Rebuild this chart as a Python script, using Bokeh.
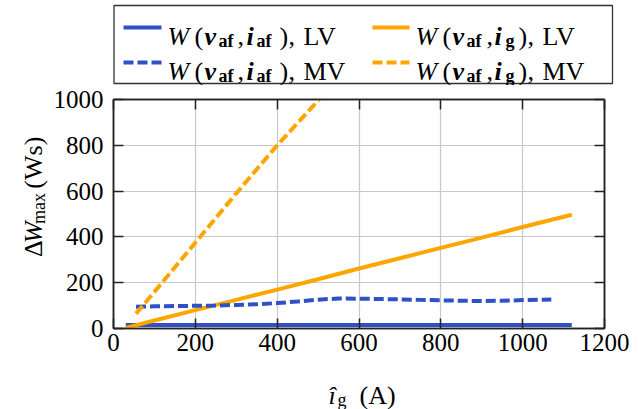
import math
from bokeh.plotting import figure
from bokeh.models import Range1d, LinearAxis, FixedTicker, Label
from bokeh.layouts import column, row
from bokeh.embed import file_html
from bokeh.resources import INLINE

# ---------------- data ----------------
x_lv = [30, 100, 200, 300, 400, 500, 600, 700, 800, 900, 1000, 1120]
w_af_lv = [15, 15, 15, 15, 15, 15, 15, 15, 15, 15, 15, 15]
w_g_lv = [3, 35, 80, 125, 170, 215, 262, 307, 352, 397, 443, 497]

x_mv = [55, 100, 150, 200, 250, 300, 350, 400, 450, 500, 550, 600, 650,
        700, 750, 800, 850, 900, 950, 1000, 1070]
w_af_mv = [95, 97, 98, 99, 100, 103, 106, 111, 118, 126, 131, 130, 129,
           127, 125, 123, 121, 120, 121, 124, 127]

x_mv_g = [55, 100, 200, 300, 400, 500, 530]
w_g_mv = [65, 160, 375, 590, 800, 995, 1055]

x_ticks = [0, 200, 400, 600, 800, 1000, 1200]
y_ticks = [0, 200, 400, 600, 800, 1000]

BLUE = "#3050c8"
ORANGE = "#ffa500"
FONT = "Liberation Serif"
DASH = "10 4"


def bare(w, h, x0, x1, y0, y1):
    f = figure(width=w, height=h, x_range=Range1d(x0, x1), y_range=Range1d(y0, y1),
               toolbar_location=None, output_backend="svg", min_border=0,
               x_axis_location=None, y_axis_location=None)
    f.grid.visible = False
    f.outline_line_color = None
    f.background_fill_color = "white"
    f.border_fill_color = "white"
    return f


def put(f, txt, x, y, style="normal", size=26, angle=0.0):
    f.add_layout(Label(x=x, y=y, text=txt, x_units="data", y_units="data",
                       text_font=FONT, text_font_size=f"{size}px",
                       text_font_style=style, text_color="black", text_align="left",
                       text_baseline="alphabetic", angle=angle))


# ---------------- legend strip ----------------
leg = bare(638, 85, 0, 638, 85, 0)
leg.quad(left=[113.5], right=[612], top=[5], bottom=[83], fill_color=None,
         line_color="#333333", line_width=1.3)
rows = [(27, 36, "LV", None), (62, 71, "MV", DASH)]
for ly, b, tag, dash in rows:
    kw = {} if dash is None else {"line_dash": dash}
    leg.line([123, 161], [ly, ly], line_color=BLUE, line_width=4, **kw)
    leg.line([372, 409], [ly, ly], line_color=ORANGE, line_width=4, **kw)
    # column 1
    put(leg, "W", 167, b, "italic")
    put(leg, "(", 194, b)
    put(leg, "v", 204, b, "bold italic")
    put(leg, "af", 218, b + 4, "bold", 18)
    put(leg, ",", 237, b)
    put(leg, "i", 246, b, "bold italic")
    put(leg, "af", 256, b + 4, "bold", 18)
    put(leg, ")", 279, b)
    put(leg, ",", 288, b)
    put(leg, tag, 303, b)
    # column 2
    put(leg, "W", 415, b, "italic")
    put(leg, "(", 442, b)
    put(leg, "v", 452, b, "bold italic")
    put(leg, "af", 466, b + 4, "bold", 18)
    put(leg, ",", 486, b)
    put(leg, "i", 494, b, "bold italic")
    put(leg, "g", 505, b + 4, "bold", 18)
    put(leg, ")", 518, b)
    put(leg, ",", 527, b)
    put(leg, tag, 542, b)

# ---------------- y label strip ----------------
ylab = bare(50, 285, 0, 50, 370, 85)
A = math.pi / 2
put(ylab, "Δ", 33, 281, "normal", 26, A)
put(ylab, "W", 33, 264, "italic", 26, A)
put(ylab, "max", 38, 240, "normal", 18, A)
put(ylab, "(Ws)", 33, 196, "normal", 26, A)

# ---------------- x label strip ----------------
xlab = bare(638, 39, 0, 638, 409, 370)
put(xlab, "î", 328, 395, "italic", 26)
put(xlab, "g", 337, 399, "normal", 18)
put(xlab, "(A)", 359, 395, "normal", 26)

# ---------------- main plot ----------------
p = figure(width=588, height=285, x_range=Range1d(0, 1200), y_range=Range1d(0, 1000),
           toolbar_location=None, output_backend="svg",
           min_border_left=63, min_border_right=34, min_border_top=14, min_border_bottom=42)
p.background_fill_color = "white"
p.border_fill_color = "white"
p.outline_line_color = "#222222"
p.outline_line_width = 1.5

p.xaxis.ticker = FixedTicker(ticks=x_ticks)
p.yaxis.ticker = FixedTicker(ticks=y_ticks)
p.xgrid.ticker = FixedTicker(ticks=x_ticks)
p.ygrid.ticker = FixedTicker(ticks=y_ticks)
p.grid.grid_line_color = "#c8c8c8"
p.grid.grid_line_width = 1.2

right = LinearAxis(ticker=FixedTicker(ticks=y_ticks),
                   major_label_overrides={t: "" for t in y_ticks})
top = LinearAxis(ticker=FixedTicker(ticks=x_ticks),
                 major_label_overrides={t: "" for t in x_ticks})
p.add_layout(right, "right")
p.add_layout(top, "above")

for ax in p.axis:
    ax.axis_line_color = "#222222"
    ax.axis_line_width = 1.5
    ax.major_tick_in = 10
    ax.major_tick_out = 0
    ax.major_tick_line_color = "#222222"
    ax.major_tick_line_width = 1.5
    ax.minor_tick_line_color = None
    ax.major_label_text_color = "black"
    ax.major_label_text_font = FONT
    ax.major_label_text_font_size = "25px"

p.below[0].major_label_standoff = 5
p.left[0].major_label_standoff = 10
right.major_label_standoff = 0
top.major_label_standoff = 0

p.line(x_lv, w_af_lv, line_color=BLUE, line_width=4)
p.line(x_lv, w_g_lv, line_color=ORANGE, line_width=4)
p.line(x_mv, w_af_mv, line_color=BLUE, line_width=4, line_dash=DASH)
p.line(x_mv_g, w_g_mv, line_color=ORANGE, line_width=4, line_dash=DASH)

layout = column(leg, row(ylab, p), xlab)

open("out.html", "w").write(file_html(layout, INLINE))
